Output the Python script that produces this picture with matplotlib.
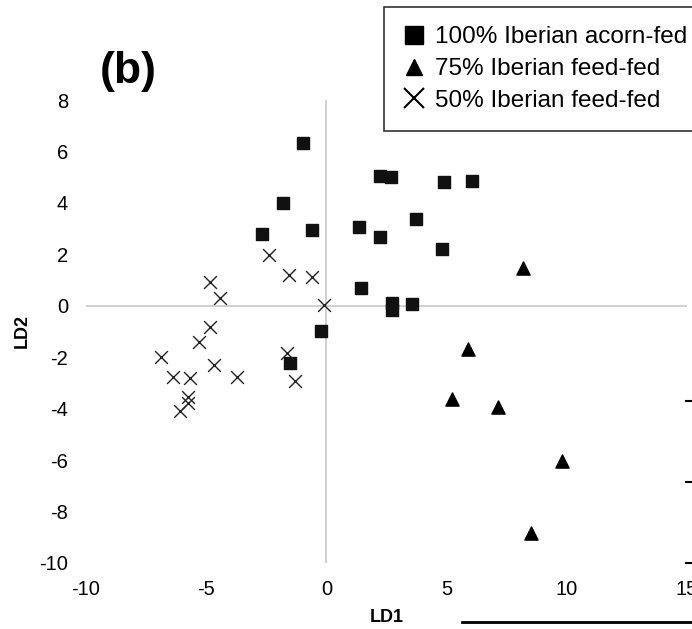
from matplotlib import pyplot as plt
from matplotlib.lines import Line2D

plt.rcParams['font.family'] = ['Liberation Sans', 'DejaVu Sans']
plt.rcParams['axes.unicode_minus'] = False

# LD scores
acorn_x = [-0.98, -1.81, -2.68, -0.60, 2.25, 2.67, 4.89, 6.04, 3.71, 1.35, 2.24, 4.81, 1.46, 2.71, 2.74, 3.58, -0.23, -1.52]
acorn_y = [6.33, 4.00, 2.79, 2.95, 5.06, 5.02, 4.80, 4.86, 3.36, 3.05, 2.69, 2.20, 0.68, 0.10, -0.16, 0.06, -0.97, -2.24]

feed75_x = [8.16, 5.87, 5.21, 7.13, 9.80, 8.53]
feed75_y = [1.46, -1.69, -3.62, -3.95, -6.03, -8.82]

feed50_x = [-2.38, -1.55, -0.60, -4.84, -4.43, -0.10, -4.84, -5.31, -6.87, -1.63, -4.68, -6.40, -5.68, -3.71, -1.30, -5.75, -5.75, -6.09]
feed50_y = [1.98, 1.19, 1.13, 0.94, 0.29, 0.03, -0.81, -1.40, -2.00, -1.82, -2.30, -2.76, -2.82, -2.76, -2.92, -3.56, -3.79, -4.08]

labels = ["100% Iberian acorn-fed", "75% Iberian feed-fed", "50% Iberian feed-fed"]

W, H = 692, 629
fig = plt.figure(figsize=(W / 100, H / 100), dpi=100)
ax = fig.add_axes([86 / W, 1 - 563 / H, 601 / W, 463 / H])

# axes crossing at zero, excel style
ax.axhline(0, color='#c8c8c8', lw=1.2, zorder=1)
ax.axvline(0, color='#c8c8c8', lw=1.2, zorder=1)

ax.scatter(acorn_x, acorn_y, marker='s', s=64, color='#111111', zorder=3)
ax.scatter(feed75_x, feed75_y, marker='^', s=90, color='black', zorder=3)
ax.scatter(feed50_x, feed50_y, marker='x', s=85, color='#222222', linewidths=1.0, zorder=3)

ax.set_xlim(-10, 15)
ax.set_ylim(-10, 8)
ax.set_xticks([-10, -5, 0, 5, 10, 15])
ax.set_yticks(range(-10, 9, 2))
ax.tick_params(length=0, labelsize=14.5, pad=13)
ax.tick_params(axis='x', pad=12)
for s in ax.spines.values():
    s.set_visible(False)
ax.set_xlabel("LD1", fontsize=13, fontweight='bold')
ax.set_ylabel("LD2", fontsize=13, fontweight='bold')
ax.xaxis.set_label_coords(0.5, -(609 - 563) / 463)
ax.yaxis.set_label_coords(-(86 - 31) / 601, 0.5)

fig.text(100 / W, 1 - 72 / H, "(b)", fontsize=32, fontweight='bold', va='center', ha='left')

handles = [
    Line2D([], [], ls='none', marker='s', ms=13.5, color='black'),
    Line2D([], [], ls='none', marker='^', ms=12, color='black'),
    Line2D([], [], ls='none', marker='x', ms=14, mew=1.5, color='black'),
]
leg = ax.legend(handles, labels, loc='upper left', bbox_to_anchor=(384 / W, 1 - 7 / H),
                bbox_transform=fig.transFigure, fontsize=17.5, frameon=True, fancybox=False,
                edgecolor='black', borderpad=0.8, labelspacing=0.4, handlelength=0.85,
                handletextpad=0.45, borderaxespad=0)
leg.get_frame().set_linewidth(1.2)

# pieces of the neighbouring panel that got cut in
for yy in [400.7, 481.7, 562.7]:
    fig.add_artist(Line2D([686 / W, 1], [1 - yy / H] * 2, color='black', lw=1.5))
fig.add_artist(Line2D([462 / W, 1], [1 - 622 / H] * 2, color='black', lw=2))

fig.savefig("out.png", dpi=100)
